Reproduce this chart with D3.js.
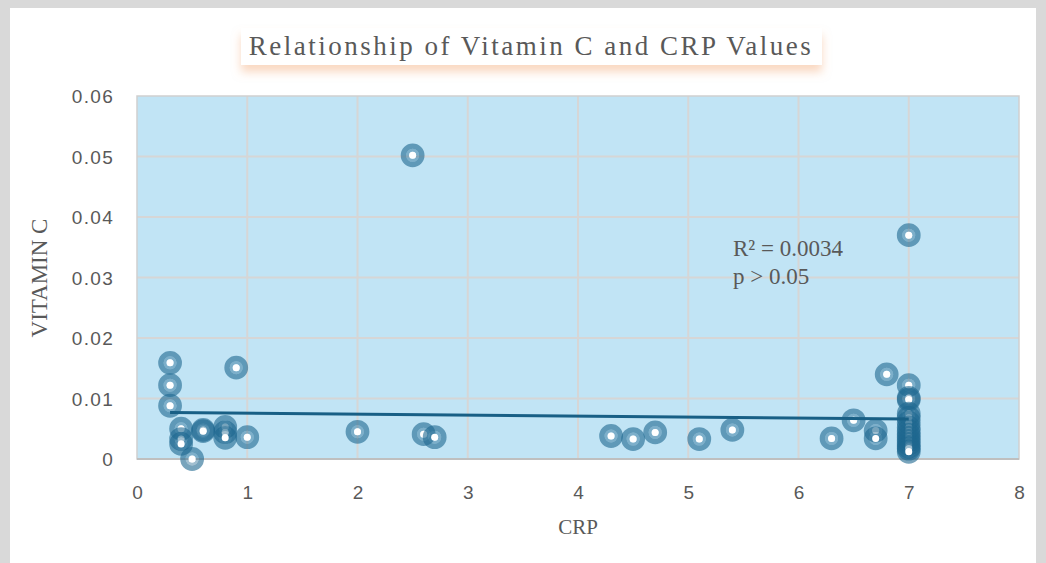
<!DOCTYPE html>
<html>
<head>
<meta charset="utf-8">
<script src="https://cdn.jsdelivr.net/npm/d3@7"></script>
<style>
  html, body { margin: 0; padding: 0; background: #D9D9D9; }
  svg { display: block; }
</style>
</head>
<body>
<svg id="chart" width="1046" height="563"></svg>
<script>
// ---- data ----
const crp = [0.3, 0.3, 0.3, 0.4, 0.4, 0.4, 0.5, 0.6, 0.6, 0.8, 0.8, 0.8, 0.9, 1.0,
  2.0, 2.5, 2.6, 2.7, 4.3, 4.5, 4.7, 5.1, 5.4, 6.3, 6.5, 6.7, 6.7, 6.8,
  7, 7, 7, 7, 7, 7, 7, 7, 7, 7, 7, 7, 7, 7, 7, 7];
const vitaminC = [0.0159, 0.0122, 0.0088, 0.005, 0.0033, 0.0025, 0.0, 0.0048, 0.0046, 0.0053, 0.0044, 0.0035, 0.0151, 0.0036,
  0.0045, 0.0502, 0.0041, 0.0036, 0.0038, 0.0033, 0.0044, 0.0033, 0.0048, 0.0034, 0.0064, 0.0047, 0.0034, 0.014,
  0.037, 0.0122, 0.0101, 0.0098, 0.0075, 0.0068, 0.006, 0.0052, 0.0046, 0.004, 0.0035, 0.003, 0.0025, 0.002, 0.0017, 0.0012];
const trendX = [0.3, 7];
const trendY = [0.0077, 0.0066];
const xTicks = [0, 1, 2, 3, 4, 5, 6, 7, 8];
const yTicks = [0, 0.01, 0.02, 0.03, 0.04, 0.05, 0.06];
const titleText = "Relationship of Vitamin C and CRP Values";
const xTitle = "CRP";
const yTitle = "VITAMIN C";
const annot = ["R² = 0.0034", "p > 0.05"];

// ---- layout ----
const svg = d3.select("#chart");
const plot = { left: 137, right: 1019, top: 96, bottom: 459 };
const x = d3.scaleLinear().domain([0, 8]).range([plot.left, plot.right]);
const y = d3.scaleLinear().domain([0, 0.06]).range([plot.bottom, plot.top]);

const defs = svg.append("defs");
const f = defs.append("filter").attr("id", "tshadow").attr("x", "-10%").attr("y", "-40%").attr("width", "120%").attr("height", "220%");
f.append("feDropShadow").attr("dx", 0).attr("dy", 7).attr("stdDeviation", 5)
  .attr("flood-color", "#F4B183").attr("flood-opacity", 0.5);

// card
svg.append("rect").attr("x", 10).attr("y", 8).attr("width", 1026).attr("height", 560).attr("fill", "#fff");

// title box
svg.append("rect").attr("x", 241).attr("y", 28).attr("width", 581).attr("height", 37)
  .attr("fill", "#fff").attr("filter", "url(#tshadow)");
svg.append("text").attr("x", 531).attr("y", 55).attr("text-anchor", "middle")
  .attr("font-family", "Liberation Serif, Times New Roman, serif").attr("font-size", 27)
  .attr("letter-spacing", "2.5px")
  .attr("fill", "#595959").text(titleText);

// plot background
svg.append("rect").attr("x", plot.left).attr("y", plot.top)
  .attr("width", plot.right - plot.left).attr("height", plot.bottom - plot.top)
  .attr("fill", "#C1E4F5");

// gridlines
const grid = svg.append("g").attr("stroke", "#D6D6D6").attr("stroke-width", 2);
grid.selectAll("line.v").data(xTicks.slice(1, -1)).enter().append("line")
  .attr("x1", d => x(d)).attr("x2", d => x(d)).attr("y1", plot.top).attr("y2", plot.bottom);
grid.selectAll("line.h").data(yTicks.slice(1, -1)).enter().append("line")
  .attr("x1", plot.left).attr("x2", plot.right).attr("y1", d => y(d)).attr("y2", d => y(d));

// plot border
svg.append("rect").attr("x", plot.left).attr("y", plot.top)
  .attr("width", plot.right - plot.left).attr("height", plot.bottom - plot.top)
  .attr("fill", "none").attr("stroke", "#CFCFCF").attr("stroke-width", 1.5);
svg.append("line").attr("x1", plot.left).attr("x2", plot.right).attr("y1", plot.bottom).attr("y2", plot.bottom)
  .attr("stroke", "#BFBFBF").attr("stroke-width", 2);

// axes (labels only)
const xAxis = svg.append("g").attr("transform", `translate(0,${plot.bottom + 26})`)
  .call(d3.axisBottom(x).tickValues(xTicks).tickFormat(d3.format("d")).tickSize(0));
xAxis.select(".domain").remove();
xAxis.selectAll("text").attr("font-family", "Liberation Sans, Arial, sans-serif").attr("font-size", 19)
  .attr("fill", "#595959").attr("dy", "0.71em").attr("y", 0);

const yAxis = svg.append("g").attr("transform", `translate(${plot.left - 23},0)`)
  .call(d3.axisLeft(y).tickValues(yTicks).tickFormat(d => d === 0 ? "0" : d3.format(".2f")(d)).tickSize(0));
yAxis.select(".domain").remove();
yAxis.selectAll("text").attr("font-family", "Liberation Sans, Arial, sans-serif").attr("font-size", 19)
  .attr("letter-spacing", "1.3px")
  .attr("fill", "#595959").attr("x", 0).attr("dy", "0.35em");

// axis titles
svg.append("text").attr("x", 578).attr("y", 534).attr("text-anchor", "middle")
  .attr("font-family", "Liberation Serif, Times New Roman, serif").attr("font-size", 21)
  .attr("fill", "#595959").text(xTitle);
svg.append("text").attr("transform", "translate(47,278) rotate(-90)").attr("text-anchor", "middle")
  .attr("font-family", "Liberation Serif, Times New Roman, serif").attr("font-size", 23)
  .attr("fill", "#595959").text(yTitle);

// points
const pts = svg.append("g");
const data = crp.map((c, i) => ({ c, v: vitaminC[i] }));
const g = pts.selectAll("g").data(data).enter().append("g")
  .attr("transform", d => `translate(${x(d.c)},${y(d.v)})`);
g.append("circle").attr("r", 9.2).attr("fill", "none").attr("stroke", "#1E6790").attr("stroke-opacity", 0.6).attr("stroke-width", 5.4);
g.append("circle").attr("r", 5).attr("fill", "none").attr("stroke", "#1E6790").attr("stroke-opacity", 0.42).attr("stroke-width", 3);
g.append("circle").attr("r", 3.5).attr("fill", "#fff");

// trend line
svg.append("path").datum(trendX.map((t, i) => [t, trendY[i]]))
  .attr("d", d3.line().x(d => x(d[0])).y(d => y(d[1])))
  .attr("stroke", "#185F85").attr("stroke-width", 3).attr("fill", "none");

// annotation
const an = svg.append("text").attr("font-family", "Liberation Serif, Times New Roman, serif")
  .attr("font-size", 23).attr("fill", "#595959");
an.selectAll("tspan").data(annot).enter().append("tspan")
  .attr("x", 733).attr("y", (d, i) => 256 + i * 28).text(d => d);
</script>
</body>
</html>
